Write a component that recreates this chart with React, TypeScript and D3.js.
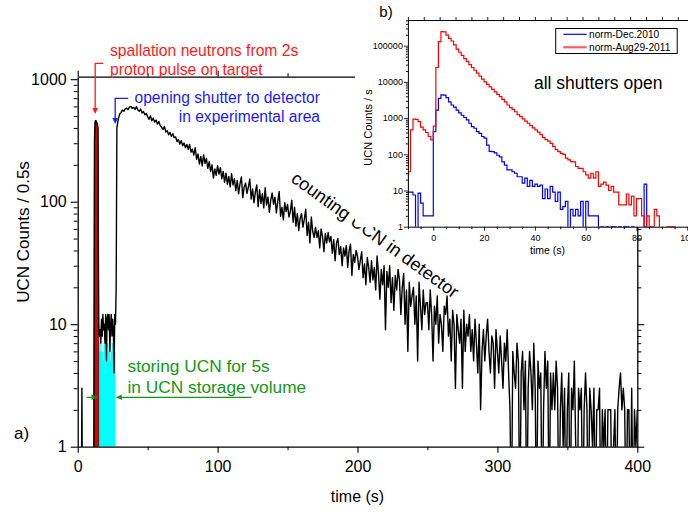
import React, { useEffect, useRef } from 'react';
import * as d3 from 'd3';

const FONT = '"Liberation Sans", Arial, Helvetica, sans-serif';

// ---- a) UCN counts per 0.5 s ----
// 0 .. 27.5 s in 0.5 s bins: background, proton pulse, storage, shutter opening
const earlyCounts = [
  0, 0, 0, 0, 0, 0, 3, 0, 0, 0, 0, 0,
  0, 0, 0, 0, 0, 0, 0, 0, 0, 0, 0, 0,
  320, 455, 460, 445, 430, 400,
  10, 8, 9, 7, 11, 8, 12, 9, 10, 7, 12, 5, 11, 12, 9, 12, 6, 10, 12, 8, 11, 9, 4, 12, 10,
  20,
];
// storage phase (cyan), 15 .. 26.5 s in 0.5 s bins
const storageCounts = [6, 7, 7, 6, 7, 6, 5, 7, 7, 4, 7, 6, 7, 7, 6, 7, 5, 7, 6, 7, 7, 6, 7, 6];
// counting phase, 1 s steps starting at 28 s
const decay028 = [
  400, 470,
  520, 535, 560, 548, 572, 580, 566, 592, 600, 578,
  588, 566, 597, 560, 548, 571, 529, 545, 512, 526,
  495, 470, 502, 458, 481, 447, 463, 431, 452, 418,
  405, 389, 412, 371, 380, 352, 368, 341, 359, 333,
  338, 310, 322, 296, 315, 287, 301, 276, 293, 268,
  293, 254, 269, 240, 276, 222, 245, 203, 234, 196,
  241, 205, 226, 187, 212, 176, 200, 156, 185, 164,
];
const decay100 = [
  197, 168, 190, 154, 177, 144, 171, 139, 161, 132,
  169, 137, 154, 123, 149, 116, 140, 159, 108, 132,
  142, 117, 132, 153, 105, 127, 98, 120, 137, 91,
  125, 97, 116, 89, 130, 94, 109, 82, 103, 118,
  95, 109, 81, 100, 121, 76, 90, 71, 98, 83,
  95, 75, 83, 103, 68, 90, 63, 80, 58, 73,
  80, 62, 72, 87, 53, 68, 46, 75, 57, 51,
  62, 51, 58, 42, 60, 52, 39, 55, 46, 56,
  47, 52, 38, 49, 33, 46, 50, 37, 43, 30,
  42, 36, 44, 29, 40, 45, 25, 37, 32, 40,
];
const decay200 = [
  36, 28, 33, 39, 24, 31, 21, 35, 29, 22,
  33, 23, 29, 19, 36, 26, 16, 28, 21, 30,
  9, 27, 20, 30, 15, 24, 13, 25, 19, 28,
  23, 12, 20, 26, 10, 19, 6, 22, 14, 17,
  20, 10, 17, 5, 22, 14, 9, 19, 12, 15,
  15, 9, 19, 12, 5, 14, 10, 17, 7, 12,
  10, 6, 14, 12, 17, 8, 11, 5, 13, 10,
  3, 12, 9, 7, 11, 3, 13, 6, 10, 8,
  12, 6, 9, 5, 11, 7, 4, 10, 2, 6,
  9, 5, 8, 11, 6, 4, 8, 7, 3, 9,
];
const decay300 = [
  6, 4, 8, 5, 3, 7, 5, 9, 4, 2,
  0, 6, 4, 3, 7, 5, 0, 4, 6, 2,
  5, 0, 3, 6, 4, 2, 7, 3, 0, 5,
  3, 4, 0, 2, 6, 3, 5, 0, 4, 2,
  4, 2, 5, 3, 0, 2, 4, 1, 3, 0,
  2, 4, 0, 3, 2, 5, 1, 0, 3, 2,
  3, 0, 2, 4, 2, 0, 3, 2, 1, 3,
  0, 2, 2, 3, 0, 2, 1, 2, 0, 2,
  2, 2, 0, 1, 2, 0, 2, 3, 4, 2,
  3, 2, 0, 2, 2, 0, 3, 0, 2, 1,
  2,
];
const mainXTicks = [0, 100, 200, 300, 400];
const mainXMinor = [50, 150, 250, 350];
const mainYTicks = [1, 10, 100, 1000];

// ---- b) inset, UCN counts / s in 1 s bins from -11 s ----
const insetStart = -11;
const normDec2010 = [
  9, 9, 9, 7.5, 0, 8.5, 4.5, 2, 2, 2, 2,
  420, 1670, 3500, 4400, 4300, 3700, 2800, 2300, 2000, 1670,
  1400, 1200, 1040, 890, 720, 580, 525, 425, 380, 310,
  280, 180, 120, 118, 110, 94, 85, 62, 50, 37,
  37, 33, 30, 24, 24, 16, 22, 13, 19, 13,
  15, 13, 14, 6, 11, 6, 13, 9, 5, 9,
  3, 3.6, 5, 0, 3, 2, 3, 2, 5, 0,
  5, 2, 2, 2, 2, 0, 1, 0, 1, 0,
  1, 1, 0, 1, 0, 1, 1, 0, 1, 0,
  0, 0, 0, 15, 0, 0, 0, 0, 0, 0,
  0, 0, 0, 0, 0, 0, 0, 0, 0, 0, 0,
];
const normAug2011 = [
  12, 33, 470, 940, 920, 800, 560, 470, 400, 310, 250,
  600, 25000, 130000, 245000, 240000, 195000, 160000, 135000, 105000, 80000,
  66000, 54000, 44000, 37000, 30000, 25000, 21000, 17500, 14500, 12000,
  10000, 8500, 7300, 6200, 5300, 4500, 3900, 3300, 2800, 2300,
  1950, 1750, 1500, 1250, 1100, 950, 820, 720, 620, 540,
  470, 410, 350, 290, 255, 230, 200, 165, 135, 118,
  106, 100, 78, 70, 63, 62, 46, 41, 41, 33,
  27, 22, 30, 22, 33, 13, 15, 17, 14, 10,
  13, 9, 9, 4, 4, 4, 8, 4, 7, 2,
  6, 6, 2, 1, 2, 1, 1, 3, 2, 0,
  0, 0, 1, 1, 1, 0, 0, 0, 0, 0, 0,
];
const insetXTicks = [0, 20, 40, 60, 80, 100];
const insetYTicks = [1, 10, 100, 1000, 10000, 100000];
const legendItems = [
  { label: 'norm-Dec.2010', color: '#0000ff', width: 1.2 },
  { label: 'norm-Aug29-2011', color: '#ff5a5a', width: 2.2 },
];

type Sel = d3.Selection<SVGGElement, unknown, null, undefined>;

const logMinors = (top: number) => {
  const out: number[] = [];
  for (let d = 1; d < top; d *= 10) {
    for (let k = 2; k <= 9; k++) if (d * k < top) out.push(d * k);
  }
  return out;
};

const styleAxis = (g: Sel, fontSize: number, width: number) => {
  g.attr('font-family', FONT).attr('font-size', fontSize);
  g.selectAll('.domain').attr('stroke-width', width);
  g.selectAll('.tick line').attr('stroke-width', width * 0.85);
  g.selectAll('.tick text').attr('fill', '#000');
};

const arrowHead = (
  g: Sel,
  tx: number,
  ty: number,
  dir: 'down' | 'left' | 'right',
  color: string,
) => {
  const L = 6;
  const h = 2.8;
  let p = '';
  if (dir === 'down') p = `M${tx},${ty}L${tx - h},${ty - L}L${tx + h},${ty - L}Z`;
  if (dir === 'left') p = `M${tx},${ty}L${tx + L},${ty - h}L${tx + L},${ty + h}Z`;
  if (dir === 'right') p = `M${tx},${ty}L${tx - L},${ty - h}L${tx - L},${ty + h}Z`;
  g.append('path').attr('d', p).attr('fill', color);
};

const App: React.FC = () => {
  const ref = useRef<SVGSVGElement>(null);

  useEffect(() => {
    const svg = d3.select(ref.current);
    svg.selectAll('*').remove();
    const root = svg.append('g') as unknown as Sel;

    // ---------- main panel ----------
    const x = d3.scaleLinear().domain([0, 400]).range([77.7, 637.3]);
    const y = d3.scaleLog().domain([1, 1048]).range([446.7, 76.7]);
    const [x0, x1] = x.range();
    const [yb, yt] = y.range();

    svg
      .append('defs')
      .append('clipPath')
      .attr('id', 'mainClip')
      .append('rect')
      .attr('x', x0)
      .attr('y', yt)
      .attr('width', x1 - x0)
      .attr('height', yb - yt);

    const mainPts: [number, number][] = [
      ...earlyCounts.map((v, i) => [i * 0.5, v] as [number, number]),
      ...[...decay028, ...decay100, ...decay200, ...decay300].map(
        (v, i) => [28 + i, v] as [number, number],
      ),
    ];
    const yv = (v: number) => y(v > 0 ? v : 0.2);

    const plot = root.append('g').attr('clip-path', 'url(#mainClip)') as unknown as Sel;

    // cyan storage area
    const storePts: [number, number][] = storageCounts.map((v, i) => [15 + i * 0.5, v]);
    storePts.push([15 + storageCounts.length * 0.5, storageCounts[storageCounts.length - 1]]);
    plot
      .append('path')
      .attr(
        'd',
        d3
          .area<[number, number]>()
          .curve(d3.curveStepAfter)
          .x((d) => x(d[0]))
          .y0(yb)
          .y1((d) => y(d[1]))(storePts),
      )
      .attr('fill', '#00ffff');

    // red proton-pulse area
    const pulsePts = mainPts.filter((d) => d[0] >= 11.5 && d[0] <= 15);
    plot
      .append('path')
      .attr(
        'd',
        d3
          .area<[number, number]>()
          .x((d) => x(d[0]))
          .y0(yb)
          .y1((d) => y(Math.max(d[1], 1)))(pulsePts),
      )
      .attr('fill', '#d80000')
      .attr('stroke', '#5a0000')
      .attr('stroke-width', 0.8);

    plot
      .append('path')
      .attr(
        'd',
        d3
          .line<[number, number]>()
          .x((d) => x(d[0]))
          .y((d) => yv(d[1]))(mainPts),
      )
      .attr('fill', 'none')
      .attr('stroke', '#000')
      .attr('stroke-width', 1.4)
      .attr('stroke-linejoin', 'round');

    // axes
    const left = root.append('g').attr('transform', `translate(${x0},0)`) as unknown as Sel;
    left.call(
      d3
        .axisLeft(y)
        .tickValues(mainYTicks)
        .tickFormat(d3.format('d') as any)
        .tickSize(7)
        .tickSizeOuter(0)
        .tickPadding(4),
    );
    styleAxis(left, 16, 1.3);
    const leftMinor = root.append('g').attr('transform', `translate(${x0},0)`) as unknown as Sel;
    leftMinor.call(d3.axisLeft(y).tickValues(logMinors(1048)).tickFormat(() => '').tickSize(4));
    leftMinor.select('.domain').remove();

    const right = root.append('g').attr('transform', `translate(${x1},0)`) as unknown as Sel;
    right.call(
      d3.axisRight(y).tickValues(mainYTicks).tickFormat(() => '').tickSize(7).tickSizeOuter(0),
    );
    styleAxis(right, 16, 1.3);
    const rightMinor = root.append('g').attr('transform', `translate(${x1},0)`) as unknown as Sel;
    rightMinor.call(d3.axisRight(y).tickValues(logMinors(1048)).tickFormat(() => '').tickSize(4));
    rightMinor.select('.domain').remove();

    const bottom = root.append('g').attr('transform', `translate(0,${yb})`) as unknown as Sel;
    bottom.call(
      d3.axisBottom(x).tickValues(mainXTicks).tickSize(6).tickSizeOuter(0).tickPadding(7.5),
    );
    styleAxis(bottom, 16, 1.3);
    const bottomMinor = root.append('g').attr('transform', `translate(0,${yb})`) as unknown as Sel;
    bottomMinor.call(d3.axisBottom(x).tickValues(mainXMinor).tickFormat(() => '').tickSize(3.5));
    bottomMinor.select('.domain').remove();

    const top = root.append('g').attr('transform', `translate(0,${yt})`) as unknown as Sel;
    top.call(
      d3.axisTop(x).tickValues(mainXTicks).tickFormat(() => '').tickSize(6).tickSizeOuter(0),
    );
    styleAxis(top, 16, 1.3);
    const topMinor = root.append('g').attr('transform', `translate(0,${yt})`) as unknown as Sel;
    topMinor.call(d3.axisTop(x).tickValues(mainXMinor).tickFormat(() => '').tickSize(3.5));
    topMinor.select('.domain').remove();

    root.selectAll('.tick line').attr('stroke', '#000');
    root.selectAll('.domain').attr('stroke', '#000');

    root
      .append('text')
      .attr('x', (x0 + x1) / 2)
      .attr('y', 502)
      .attr('text-anchor', 'middle')
      .attr('font-family', FONT)
      .attr('font-size', 16)
      .text('time (s)');
    root
      .append('text')
      .attr('transform', 'translate(28.5,232) rotate(-90)')
      .attr('text-anchor', 'middle')
      .attr('font-family', FONT)
      .attr('font-size', 17)
      .text('UCN Counts / 0.5s');
    root
      .append('text')
      .attr('x', 14)
      .attr('y', 438.5)
      .attr('font-family', FONT)
      .attr('font-size', 17)
      .text('a)');

    // annotations
    const red = '#ff1a1a';
    const blue = '#1a1aff';
    const green = '#149614';
    const ann = root.append('g').attr('font-family', FONT) as unknown as Sel;

    ['spallation neutrons from 2s', 'proton pulse on target'].forEach((t, i) =>
      ann
        .append('text')
        .attr('x', 110)
        .attr('y', 55.5 + i * 19.5)
        .attr('font-size', 15.7)
        .attr('fill', red)
        .text(t),
    );
    const px = x(12.5);
    ann
      .append('path')
      .attr('d', `M${px + 8},63.3H${px}V108`)
      .attr('fill', 'none')
      .attr('stroke', red)
      .attr('stroke-width', 1.3);
    arrowHead(ann, px, 114, 'down', red);

    ['opening shutter to detector', 'in experimental area'].forEach((t, i) =>
      ann
        .append('text')
        .attr('x', 320)
        .attr('y', 103.3 + i * 18.5)
        .attr('text-anchor', 'end')
        .attr('font-size', 15.6)
        .attr('fill', blue)
        .text(t),
    );
    const bx = x(26.8);
    ann
      .append('path')
      .attr('d', `M${bx + 13},98.3H${bx}V118`)
      .attr('fill', 'none')
      .attr('stroke', blue)
      .attr('stroke-width', 1.3);
    arrowHead(ann, bx, 124, 'down', blue);

    ann
      .append('text')
      .attr('transform', 'translate(290,181) rotate(35.8)')
      .attr('font-size', 18)
      .attr('fill', '#000')
      .text('counting UCN in detector');

    ['storing UCN for 5s', 'in UCN storage volume'].forEach((t, i) =>
      ann
        .append('text')
        .attr('x', 127.5)
        .attr('y', 371.5 + i * 21.5)
        .attr('font-size', 17.3)
        .attr('fill', green)
        .text(t),
    );
    const ay = 397.3;
    const gl = x(14.2);
    const gr = x(27.2);
    ann
      .append('line')
      .attr('x1', gl - 11)
      .attr('x2', gl - 4)
      .attr('y1', ay)
      .attr('y2', ay)
      .attr('stroke', green)
      .attr('stroke-width', 1.2);
    arrowHead(ann, gl, ay, 'right', green);
    ann
      .append('line')
      .attr('x1', gr + 4)
      .attr('x2', 251.5)
      .attr('y1', ay)
      .attr('y2', ay)
      .attr('stroke', green)
      .attr('stroke-width', 1.2);
    arrowHead(ann, gr, ay, 'left', green);

    // ---------- inset b) ----------
    const xi = d3.scaleLinear().domain([-10, 100]).range([407.9, 687.3]);
    const yi = d3.scaleLog().domain([1, Math.pow(10, 5.71)]).range([226.7, 20]);
    const [ix0] = xi.range();
    const [iyb, iyt] = yi.range();
    const inset = root.append('g') as unknown as Sel;

    inset
      .append('rect')
      .attr('x', 355)
      .attr('y', 0)
      .attr('width', 688 - 355)
      .attr('height', iyb + 0.5)
      .attr('fill', '#fff');

    svg
      .select('defs')
      .append('clipPath')
      .attr('id', 'insetClip')
      .append('rect')
      .attr('x', ix0)
      .attr('y', iyt)
      .attr('width', 700 - ix0)
      .attr('height', iyb - iyt);

    const series = [
      { values: normDec2010, color: '#0000ff' },
      { values: normAug2011, color: '#ff0000' },
    ];
    const iplot = inset.append('g').attr('clip-path', 'url(#insetClip)') as unknown as Sel;
    series.forEach((s) => {
      const pts: [number, number][] = s.values.map((v, i) => [insetStart + i, v]);
      pts.push([insetStart + s.values.length, s.values[s.values.length - 1]]);
      iplot
        .append('path')
        .attr(
          'd',
          d3
            .line<[number, number]>()
            .curve(d3.curveStepAfter)
            .x((d) => xi(d[0]))
            .y((d) => yi(d[1] > 0 ? d[1] : 0.2))(pts),
        )
        .attr('fill', 'none')
        .attr('stroke', s.color)
        .attr('stroke-width', 1.2);
    });

    const ib = inset.append('g').attr('transform', `translate(0,${iyb})`) as unknown as Sel;
    ib.call(
      d3.axisBottom(xi).tickValues(insetXTicks).tickSize(4).tickSizeOuter(0).tickPadding(3.5),
    );
    styleAxis(ib, 9, 1);
    ib.select('.domain').attr('d', `M${ix0},0.5H700`);
    const ibm = inset.append('g').attr('transform', `translate(0,${iyb})`) as unknown as Sel;
    ibm.call(
      d3
        .axisBottom(xi)
        .tickValues(d3.range(-10, 101, 5).filter((v) => v % 20 !== 0))
        .tickFormat(() => '')
        .tickSize(2.5),
    );
    ibm.select('.domain').remove();

    const il = inset.append('g').attr('transform', `translate(${ix0},0)`) as unknown as Sel;
    il.call(
      d3
        .axisLeft(yi)
        .tickValues(insetYTicks)
        .tickFormat(d3.format('d') as any)
        .tickSize(4)
        .tickSizeOuter(0)
        .tickPadding(1),
    );
    styleAxis(il, 9, 1);
    const ilm = inset.append('g').attr('transform', `translate(${ix0},0)`) as unknown as Sel;
    ilm.call(
      d3.axisLeft(yi).tickValues(logMinors(Math.pow(10, 5.71))).tickFormat(() => '').tickSize(2),
    );
    ilm.select('.domain').remove();

    const it = inset.append('g').attr('transform', `translate(0,${iyt})`) as unknown as Sel;
    it.call(
      d3.axisTop(xi).tickValues(d3.range(-10, 110, 6.25)).tickFormat(() => '').tickSize(3).tickSizeOuter(0),
    );
    styleAxis(it, 9, 1);
    it.select('.domain').attr('d', `M${ix0},0.5H700`);

    inset.selectAll('.tick line').attr('stroke', '#000');
    inset.selectAll('.domain').attr('stroke', '#000');

    // legend
    const lg = inset.append('g').attr('font-family', FONT) as unknown as Sel;
    lg.append('rect')
      .attr('x', 555.7)
      .attr('y', 28.5)
      .attr('width', 121.5)
      .attr('height', 25)
      .attr('fill', '#fff')
      .attr('stroke', '#000')
      .attr('stroke-width', 1);
    legendItems.forEach((it2, i) => {
      const ly = 34.3 + i * 13;
      lg.append('line')
        .attr('x1', 563.3)
        .attr('x2', 586.7)
        .attr('y1', ly)
        .attr('y2', ly)
        .attr('stroke', it2.color)
        .attr('stroke-width', it2.width);
      lg.append('text')
        .attr('x', 589)
        .attr('y', ly + 3.6)
        .attr('font-size', 10.2)
        .text(it2.label);
    });

    inset
      .append('text')
      .attr('x', 534)
      .attr('y', 89)
      .attr('font-family', FONT)
      .attr('font-size', 17.5)
      .text('all shutters open');
    inset
      .append('text')
      .attr('x', 379.3)
      .attr('y', 16.5)
      .attr('font-family', FONT)
      .attr('font-size', 15)
      .text('b)');
    inset
      .append('text')
      .attr('transform', 'translate(371.5,127.5) rotate(-90)')
      .attr('text-anchor', 'middle')
      .attr('font-family', FONT)
      .attr('font-size', 11)
      .text('UCN Counts / s');
    inset
      .append('text')
      .attr('x', 547.5)
      .attr('y', 253.5)
      .attr('text-anchor', 'middle')
      .attr('font-family', FONT)
      .attr('font-size', 10.5)
      .text('time (s)');
  }, []);

  return (
    <svg
      ref={ref}
      width={688}
      height={512}
      viewBox="0 0 688 512"
      style={{ position: 'absolute', left: 0, top: 0, background: '#fff' }}
    />
  );
};

export default App;
